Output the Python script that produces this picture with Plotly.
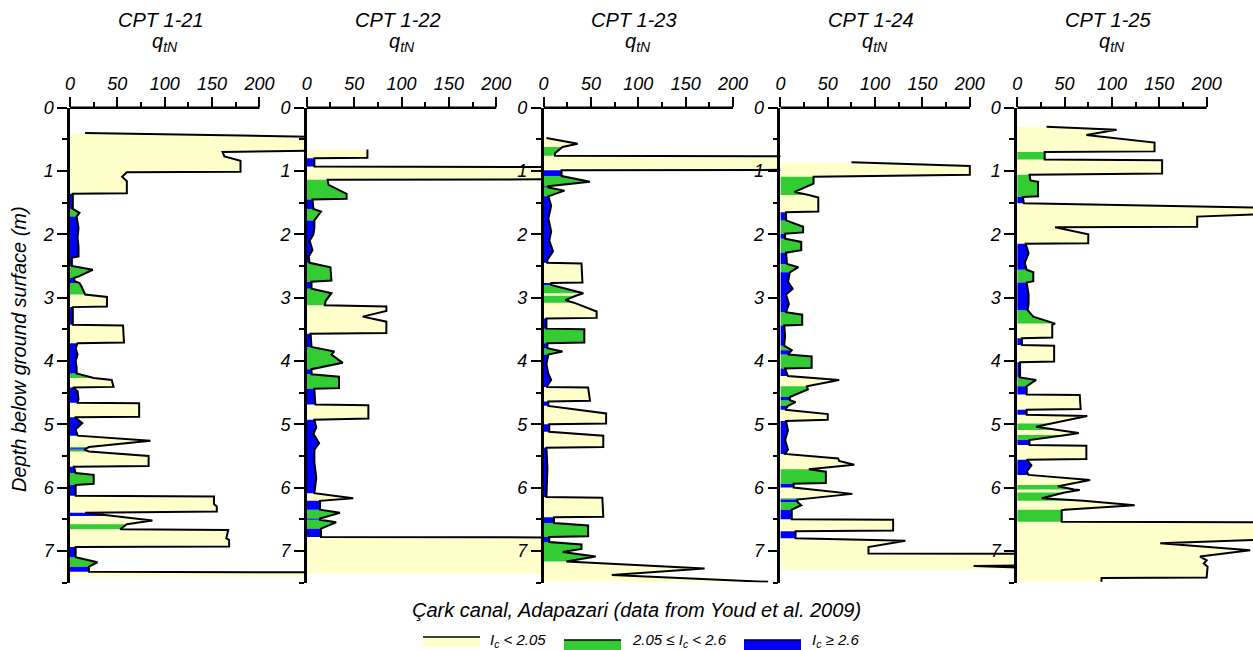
import plotly.graph_objects as go

W, H = 1253, 650
FONT = "Liberation Sans, Arial, sans-serif"

panel_names = ["CPT 1-21", "CPT 1-22", "CPT 1-23", "CPT 1-24", "CPT 1-25"]

# zone code for the segment that starts at each point:
# 0 -> Ic < 2.05, 1 -> 2.05 <= Ic < 2.6, 2 -> Ic >= 2.6
depth_121 = [0.40, 0.47, 0.67, 0.70, 0.77, 0.84, 1.01, 1.02, 1.09, 1.16, 1.35, 1.36, 1.60, 1.66,
             1.72, 1.80, 1.90, 2.05, 2.20, 2.35, 2.37, 2.50, 2.56, 2.66, 2.69, 2.74, 2.77, 2.82,
             2.90, 2.95, 2.99, 3.14, 3.15, 3.43, 3.44, 3.71, 3.72, 3.80, 3.90, 4.00, 4.10, 4.20,
             4.27, 4.30, 4.41, 4.42, 4.48, 4.60, 4.66, 4.67, 4.88, 4.89, 4.98, 5.08, 5.18, 5.26,
             5.36, 5.38, 5.40, 5.43, 5.50, 5.66, 5.67, 5.77, 5.80, 5.94, 5.96, 6.13, 6.14, 6.26,
             6.30, 6.38, 6.40, 6.45, 6.52, 6.58, 6.66, 6.67, 6.80, 6.83, 6.93, 6.94, 7.10, 7.18,
             7.25, 7.33, 7.34, 7.41]
qtn_121 = [16, 300, 300, 161, 163, 180, 180, 60, 55, 60, 60, 3, 3, 10,
           7, 8, 9, 8, 9, 9, 2, 2, 24, 10, 4, 5, 10, 12,
           14, 16, 39, 39, 3, 3, 56, 57, 8, 6, 8, 6, 7, 7,
           25, 44, 46, 3, 8, 9, 8, 73, 73, 5, 13, 6, 8, 85,
           20, 17, 15, 20, 83, 83, 4, 6, 25, 25, 6, 6, 152, 152,
           155, 155, 16, 46, 87, 60, 53, 167, 165, 168, 168, 6, 6, 29,
           20, 20, 300, 300]
zone_121 = [0, 0, 0, 0, 0, 0, 0, 0, 0, 0, 0, 2, 1, 1,
            2, 2, 2, 2, 2, 2, 2, 1, 1, 1, 2, 2, 1, 1,
            1, 0, 0, 0, 2, 0, 0, 0, 2, 2, 2, 2, 2, 1,
            0, 0, 0, 2, 2, 2, 0, 0, 0, 2, 2, 2, 0, 0,
            1, 2, 1, 0, 0, 0, 2, 1, 1, 1, 2, 0, 0, 0,
            0, 0, 2, 0, 0, 1, 0, 0, 0, 0, 0, 2, 1, 1,
            2, 0, 0, 0]

depth_122 = [0.66, 0.79, 0.80, 0.93, 0.94, 1.13, 1.14, 1.22, 1.36, 1.44, 1.45, 1.60, 1.64, 1.78,
             1.90, 2.00, 2.10, 2.25, 2.35, 2.45, 2.52, 2.73, 2.75, 2.86, 2.93, 3.05, 3.12, 3.14,
             3.21, 3.30, 3.38, 3.56, 3.57, 3.78, 3.85, 3.90, 4.03, 4.13, 4.21, 4.25, 4.43, 4.44,
             4.69, 4.70, 4.91, 4.93, 5.05, 5.15, 5.30, 5.40, 5.60, 5.85, 6.09, 6.17, 6.21, 6.35,
             6.40, 6.49, 6.51, 6.55, 6.65, 6.78, 6.79, 7.36]
qtn_122 = [64, 64, 8, 8, 300, 300, 22, 23, 42, 42, 6, 7, 15, 8,
           8, 7, 3, 6, 2, 3, 25, 26, 5, 5, 26, 20, 19, 84,
           84, 59, 84, 84, 4, 5, 29, 26, 38, 5, 5, 34, 34, 8,
           9, 65, 65, 8, 10, 7, 13, 8, 8, 10, 8, 49, 14, 14,
           35, 14, 14, 31, 15, 15, 300, 300]
zone_122 = [0, 0, 2, 0, 0, 0, 1, 1, 1, 1, 2, 1, 1, 2,
            2, 2, 2, 2, 2, 1, 1, 1, 2, 1, 1, 1, 0, 0,
            0, 0, 0, 0, 2, 1, 1, 1, 1, 2, 1, 1, 1, 2,
            0, 0, 0, 2, 2, 2, 2, 2, 2, 2, 0, 0, 2, 1,
            1, 2, 1, 1, 2, 0, 0, 0]

depth_123 = [0.48, 0.57, 0.62, 0.72, 0.76, 0.77, 0.98, 0.99, 1.08, 1.17, 1.24, 1.26, 1.31, 1.40,
             1.55, 1.75, 1.95, 2.10, 2.27, 2.40, 2.45, 2.46, 2.76, 2.77, 2.80, 2.93, 2.97, 3.04,
             3.08, 3.22, 3.32, 3.33, 3.49, 3.50, 3.71, 3.72, 3.80, 3.85, 3.90, 4.05, 4.20, 4.30,
             4.41, 4.42, 4.63, 4.64, 4.71, 4.83, 4.99, 5.00, 5.12, 5.18, 5.36, 5.37, 5.70, 6.00,
             6.15, 6.16, 6.46, 6.47, 6.56, 6.60, 6.77, 6.78, 6.86, 6.90, 6.97, 7.02, 7.09, 7.17,
             7.28, 7.38, 7.49]
qtn_123 = [3, 36, 20, 12, 12, 300, 300, 19, 19, 49, 5, 5, 22, 5,
           8, 5, 8, 6, 10, 4, 4, 40, 41, 8, 8, 42, 34, 23,
           32, 56, 56, 3, 3, 43, 43, 4, 4, 20, 5, 3, 5, 8,
           3, 47, 49, 5, 5, 66, 66, 6, 6, 63, 63, 3, 4, 3,
           3, 62, 63, 11, 11, 47, 47, 6, 6, 40, 40, 20, 55, 24,
           170, 72, 237]
zone_123 = [0, 0, 1, 1, 0, 0, 0, 2, 1, 1, 2, 1, 1, 2,
            2, 2, 2, 2, 2, 2, 0, 0, 0, 2, 1, 0, 1, 1,
            0, 0, 0, 2, 1, 1, 1, 2, 1, 1, 2, 2, 2, 2,
            0, 0, 0, 2, 0, 0, 0, 2, 0, 0, 0, 2, 2, 2,
            0, 0, 0, 2, 1, 1, 1, 2, 1, 1, 1, 1, 1, 0,
            0, 0, 0]

depth_124 = [0.86, 0.92, 1.06, 1.09, 1.20, 1.33, 1.38, 1.42, 1.64, 1.65, 1.78, 1.88, 1.97, 1.99,
             2.07, 2.12, 2.25, 2.29, 2.47, 2.52, 2.60, 2.75, 2.86, 2.95, 3.10, 3.23, 3.27, 3.43,
             3.44, 3.60, 3.76, 3.83, 3.90, 3.93, 4.11, 4.12, 4.24, 4.30, 4.40, 4.45, 4.57, 4.62,
             4.65, 4.71, 4.77, 4.84, 4.93, 4.95, 5.10, 5.25, 5.40, 5.47, 5.54, 5.58, 5.64, 5.71,
             5.75, 5.93, 5.94, 6.00, 6.10, 6.17, 6.19, 6.23, 6.28, 6.35, 6.50, 6.51, 6.68, 6.69,
             6.80, 6.84, 6.94, 7.04, 7.05, 7.22, 7.24, 7.29, 7.30]
qtn_124 = [75, 200, 200, 35, 35, 15, 30, 40, 40, 6, 6, 24, 24, 5,
           5, 22, 22, 6, 7, 19, 10, 8, 13, 6, 9, 6, 23, 23,
           4, 5, 4, 12, 8, 33, 33, 5, 8, 62, 28, 29, 10, 10,
           16, 8, 5, 50, 50, 6, 8, 5, 8, 5, 61, 62, 78, 30,
           48, 48, 14, 14, 76, 25, 18, 18, 22, 12, 12, 119, 119, 16,
           16, 132, 93, 93, 300, 300, 204, 300, 300]
zone_124 = [0, 0, 0, 1, 1, 1, 0, 0, 0, 2, 1, 1, 1, 2,
            1, 1, 1, 2, 1, 1, 2, 2, 2, 2, 2, 1, 1, 1,
            2, 2, 1, 2, 1, 1, 1, 2, 0, 0, 1, 1, 2, 1,
            1, 2, 0, 0, 0, 2, 2, 2, 2, 0, 0, 0, 0, 1,
            1, 1, 2, 0, 0, 1, 2, 1, 1, 2, 0, 0, 0, 2,
            0, 0, 0, 0, 0, 0, 0, 0, 0]

depth_125 = [0.30, 0.35, 0.43, 0.55, 0.69, 0.70, 0.82, 0.83, 1.04, 1.06, 1.15, 1.17, 1.40, 1.41,
             1.51, 1.59, 1.66, 1.72, 1.88, 1.89, 2.00, 2.14, 2.15, 2.30, 2.45, 2.56, 2.60, 2.74,
             2.76, 2.95, 3.10, 3.20, 3.30, 3.41, 3.43, 3.63, 3.64, 3.75, 3.76, 4.01, 4.02, 4.26,
             4.30, 4.40, 4.53, 4.54, 4.76, 4.77, 4.85, 4.87, 4.99, 5.04, 5.09, 5.14, 5.17, 5.25,
             5.33, 5.34, 5.55, 5.56, 5.65, 5.75, 5.80, 5.88, 5.96, 5.98, 6.03, 6.04, 6.08, 6.17,
             6.21, 6.28, 6.35, 6.36, 6.54, 6.55, 6.80, 6.88, 6.99, 7.09, 7.15, 7.20, 7.25, 7.42,
             7.43, 7.49]
qtn_125 = [31, 105, 73, 145, 145, 29, 29, 153, 153, 13, 14, 22, 22, 6,
           7, 300, 300, 190, 190, 40, 75, 75, 9, 12, 8, 10, 17, 17,
           10, 12, 12, 11, 17, 40, 37, 37, 5, 5, 39, 39, 3, 3,
           20, 10, 10, 66, 67, 10, 10, 74, 36, 20, 43, 65, 52, 13,
           13, 73, 73, 10, 15, 10, 12, 77, 50, 43, 60, 66, 50, 26,
           70, 124, 50, 47, 47, 300, 300, 151, 246, 193, 200, 197, 201, 200,
           89, 89]
zone_125 = [0, 0, 0, 0, 0, 1, 0, 0, 0, 1, 1, 1, 1, 2,
            0, 0, 0, 0, 0, 0, 0, 0, 2, 2, 2, 1, 1, 1,
            2, 2, 2, 1, 1, 0, 0, 0, 2, 0, 0, 0, 2, 1,
            1, 2, 0, 0, 0, 2, 0, 0, 1, 1, 0, 0, 1, 2,
            0, 0, 0, 2, 2, 2, 0, 0, 1, 1, 0, 0, 1, 1,
            0, 0, 1, 1, 0, 0, 0, 0, 0, 0, 0, 0, 0, 0,
            0, 0]

profiles = [
    (depth_121, qtn_121, zone_121),
    (depth_122, qtn_122, zone_122),
    (depth_123, qtn_123, zone_123),
    (depth_124, qtn_124, zone_124),
    (depth_125, qtn_125, zone_125),
]

zone_colors = ["#FFFFCC", "#33CC33", "#0000FF"]
zone_labels = ["I<sub>c</sub> < 2.05", "2.05 ≤ I<sub>c</sub> < 2.6", "I<sub>c</sub> ≥ 2.6"]

# panel geometry (pixels)
PX0 = 70.0
PANEL_W = 236.8
Q_MAX = 250.0
TOP = 107.7
BOTTOM = 582.5


def zone_polygons(depth, qtn, zone, code):
    """Closed shapes between the depth axis and the profile for one Ic zone."""
    xs, ys = [], []
    n = len(depth)
    i = 0
    while i < n - 1:
        if zone[i] != code:
            i += 1
            continue
        j = i
        while j < n - 1 and zone[j] == code:
            j += 1
        xs += [0] + list(qtn[i:j + 1]) + [0, None]
        ys += [depth[i]] + list(depth[i:j + 1]) + [depth[j], None]
        i = j
    return xs, ys


def text_font(size):
    return dict(family=FONT, size=size, color="black", style="italic")


fig = go.Figure()

for k, (depth, qtn, zone) in enumerate(profiles):
    sfx = "" if k == 0 else str(k + 1)
    xa, ya = "x" + sfx, "y" + sfx
    for code, color in enumerate(zone_colors):
        px, py = zone_polygons(depth, qtn, zone, code)
        if not px:
            continue
        fig.add_trace(go.Scatter(x=px, y=py, xaxis=xa, yaxis=ya, mode="lines",
                                 fill="toself", fillcolor=color, line=dict(width=0),
                                 hoverinfo="skip", showlegend=False))
    fig.add_trace(go.Scatter(x=qtn, y=depth, xaxis=xa, yaxis=ya, mode="lines",
                             line=dict(color="black", width=2), hoverinfo="skip",
                             showlegend=False))

    x0 = PX0 + k * PANEL_W
    x1 = min(x0 + PANEL_W, W)
    q_hi = Q_MAX * (x1 - x0) / PANEL_W
    fig.update_layout(**{
        "xaxis" + sfx: dict(
            domain=[x0 / W, x1 / W], range=[0, q_hi], side="top",
            anchor=ya, tickmode="array", tickvals=[0, 50, 100, 150, 200],
            ticks="outside", ticklen=10, tickwidth=2, tickcolor="black",
            minor=dict(tickmode="array", tickvals=[25, 75, 125, 175], ticks="outside",
                       ticklen=5, tickwidth=2, tickcolor="black"),
            showline=False, showgrid=False, zeroline=False, tickfont=text_font(18),
            automargin=False,
        ),
        "yaxis" + sfx: dict(
            domain=[1 - BOTTOM / H, 1 - TOP / H], range=[7.5, 0], anchor=xa,
            tickmode="array", tickvals=list(range(8)),
            ticks="outside", ticklen=10, tickwidth=2, tickcolor="black",
            minor=dict(dtick=0.5, tick0=0, ticks="outside", ticklen=5, tickwidth=2,
                       tickcolor="black"),
            showline=True, linewidth=2.5, linecolor="black",
            showgrid=False, zeroline=False, tickfont=text_font(18),
            automargin=False,
        ),
    })
    # top axis line spans only 0-200
    fig.add_shape(type="line", xref=xa, yref="paper", x0=0, x1=200,
                  y0=1 - TOP / H, y1=1 - TOP / H, line=dict(color="black", width=2.5))
    fig.add_annotation(x=100, xref=xa, y=1 - 20 / H, yref="paper", text=panel_names[k],
                       showarrow=False, xshift=-4, xanchor="center", yanchor="middle",
                       font=text_font(20))
    fig.add_annotation(x=100, xref=xa, y=1 - 42 / H, yref="paper", text="q<sub>tN</sub>",
                       showarrow=False, xanchor="center", yanchor="middle",
                       font=text_font(20))

fig.add_annotation(x=19 / W, y=1 - 349 / H, xref="paper", yref="paper",
                   text="Depth below ground surface (m)", textangle=-90, showarrow=False,
                   xanchor="center", yanchor="middle", font=text_font(20))
fig.add_annotation(x=636 / W, y=1 - 610 / H, xref="paper", yref="paper",
                   text="Çark canal, Adapazari (data from Youd et al. 2009)", showarrow=False,
                   xanchor="center", yanchor="middle", font=text_font(20))

# legend swatches
sw = [(423, 637), (564, 640), (744, 640)]
lab_x = [488, 630, 810]
for (sx, sy), color, label, lx in zip(sw, zone_colors, zone_labels, lab_x):
    fig.add_shape(type="rect", xref="paper", yref="paper", x0=sx / W, x1=(sx + 57) / W,
                  y0=1 - (sy + 10) / H, y1=1 - sy / H, fillcolor=color, line=dict(width=0))
    fig.add_shape(type="line", xref="paper", yref="paper", x0=sx / W, x1=(sx + 57) / W,
                  y0=1 - sy / H, y1=1 - sy / H, line=dict(color="black", width=1.5))
    fig.add_annotation(x=lx / W, y=1 - 640 / H, xref="paper", yref="paper", text=label,
                       showarrow=False, xanchor="left", yanchor="middle",
                       font=text_font(15))

fig.update_layout(width=W, height=H,
                  margin=dict(l=0, r=0, t=0, b=0, pad=0, autoexpand=False),
                  paper_bgcolor="white", plot_bgcolor="rgba(0,0,0,0)")

fig.write_html("out.html")
